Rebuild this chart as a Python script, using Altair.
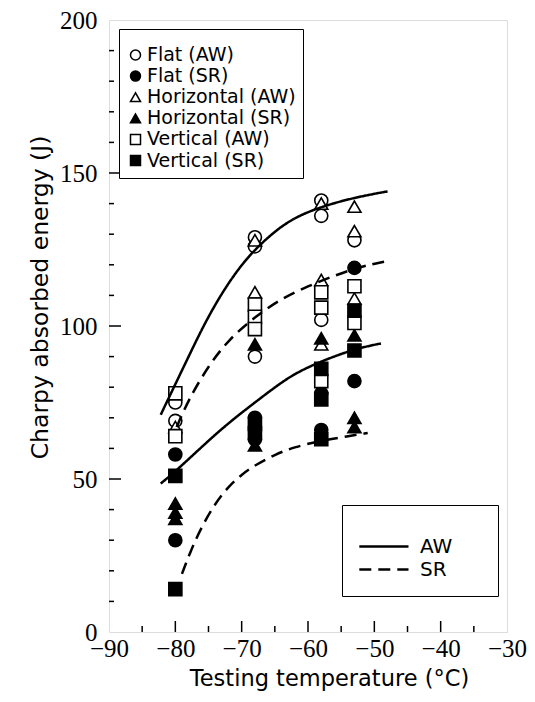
import altair as alt
import pandas as pd

# ---------------- data ----------------
TEMP_LABELS = [-90, -80, -70, -60, -50, -40, -30]
ENERGY_LABELS = [0, 50, 100, 150, 200]

series_names = ["Flat (AW)", "Flat (SR)", "Horizontal (AW)", "Horizontal (SR)",
                "Vertical (AW)", "Vertical (SR)"]
series_shapes = ["circle", "circle", "triangle-up", "triangle-up", "square", "square"]
series_fills = ["white", "black", "white", "black", "white", "black"]

flat_aw_t = [-80, -80, -68, -68, -68, -58, -58, -58, -53]
flat_aw_e = [75, 69, 129, 126, 90, 141, 136, 102, 128]
flat_sr_t = [-80, -80, -68, -68, -58, -58, -53, -53]
flat_sr_e = [58, 30, 70, 63, 78, 66, 119, 82]
hor_aw_t = [-80, -68, -68, -58, -58, -58, -53, -53, -53]
hor_aw_e = [67, 128, 111, 140, 115, 94, 139, 131, 109]
hor_sr_t = [-80, -80, -80, -68, -68, -58, -53, -53, -53]
hor_sr_e = [42, 39, 37, 94, 61, 96, 97, 70, 67]
ver_aw_t = [-80, -80, -68, -68, -68, -58, -58, -58, -53, -53]
ver_aw_e = [78, 64, 107, 103, 99, 111, 106, 82, 113, 101]
ver_sr_t = [-80, -80, -68, -68, -58, -58, -58, -53, -53]
ver_sr_e = [51, 14, 68, 65, 86, 76, 63, 105, 92]

# fitted curves
curve_types = ["AW", "SR"]
aw_upper_t = [-82.2, -80, -78, -76, -74, -72, -70, -68, -65, -62, -58, -53, -48]
aw_upper_e = [71, 81, 90, 99, 107, 114, 120, 125, 131, 135.5, 139, 142, 144]
aw_lower_t = [-82.2, -80, -77, -74, -71, -68, -65, -62, -58, -53, -49]
aw_lower_e = [48.5, 52.5, 58.5, 64.5, 70, 75, 80, 84.5, 88.5, 92.5, 94.3]
sr_upper_t = [-79.8, -78, -75, -72, -68, -64, -60, -56, -52, -48.5]
sr_upper_e = [67, 76, 87, 95.5, 103, 109, 113, 116.5, 119.5, 121]
sr_lower_t = [-79, -77.6, -76, -74, -72, -70, -68, -65, -62, -58, -54, -51]
sr_lower_e = [19, 27, 34.5, 42, 47.5, 51.5, 54.5, 58, 60.5, 62.5, 64, 65]

# inward tick positions
x_major_ticks = [-80, -70, -60, -50, -40]
x_minor_ticks = [-85, -75, -65, -55, -45, -35]
y_major_ticks = [50, 100, 150]
y_minor_ticks = [10, 20, 30, 40, 60, 70, 80, 90, 110, 120, 130, 140, 160, 170, 180, 190]

# ---------------- tables ----------------
pts = []
for name, ts, es in zip(series_names,
                        [flat_aw_t, flat_sr_t, hor_aw_t, hor_sr_t, ver_aw_t, ver_sr_t],
                        [flat_aw_e, flat_sr_e, hor_aw_e, hor_sr_e, ver_aw_e, ver_sr_e]):
    for t, e in zip(ts, es):
        pts.append({"T": t, "E": e, "series": name})
pts_df = pd.DataFrame(pts)

lines = []
for cid, ctype, ts, es in [("aw_u", "AW", aw_upper_t, aw_upper_e),
                           ("aw_l", "AW", aw_lower_t, aw_lower_e),
                           ("sr_u", "SR", sr_upper_t, sr_upper_e),
                           ("sr_l", "SR", sr_lower_t, sr_lower_e)]:
    for i, (t, e) in enumerate(zip(ts, es)):
        lines.append({"T": t, "E": e, "curve": cid, "type": ctype, "i": i})
lines_df = pd.DataFrame(lines)

W, H = 398, 612
xscale = alt.Scale(domain=[-90, -30], nice=False, zero=False)
yscale = alt.Scale(domain=[0, 200], nice=False, zero=False)

x_axis = alt.Axis(values=TEMP_LABELS, ticks=False, domain=False, grid=False,
                  labelFont="Liberation Serif", labelFontSize=25, labelColor="black",
                  labelPadding=4, labelFlush=False, labelOverlap=False,
                  title="Testing temperature (°C)", titleFont="DejaVu Sans",
                  titleFontSize=22.5, titleFontWeight="normal", titleColor="black",
                  titlePadding=6, titleX=220)
y_axis = alt.Axis(values=ENERGY_LABELS, ticks=False, domain=False, grid=False,
                  labelFont="Liberation Serif", labelFontSize=25, labelColor="black",
                  labelPadding=12, labelFlush=False, labelOverlap=False,
                  title="Charpy absorbed energy (J)", titleFont="DejaVu Sans",
                  titleFontSize=23.5, titleFontWeight="normal", titleColor="black",
                  titlePadding=7, titleY=277)

X = alt.X("T:Q", scale=xscale, axis=x_axis)
Y = alt.Y("E:Q", scale=yscale, axis=y_axis)

legend_pts = alt.Legend(orient="none", legendX=10, legendY=9, title=" ",
                        titleFontSize=7, titlePadding=2.5,
                        labelFont="DejaVu Sans", labelFontSize=19, labelColor="black",
                        symbolSize=100, symbolStrokeWidth=1.5, symbolOffset=0,
                        strokeColor="black", padding=7, rowPadding=1.1, labelOffset=2,
                        fillColor="white")

points = alt.Chart(pts_df).mark_point(filled=True, size=170, strokeWidth=1.6,
                                      opacity=1).encode(
    x=X, y=Y,
    shape=alt.Shape("series:N", scale=alt.Scale(domain=series_names, range=series_shapes),
                    legend=legend_pts),
    fill=alt.Fill("series:N", scale=alt.Scale(domain=series_names, range=series_fills),
                  legend=legend_pts),
    stroke=alt.Stroke("series:N", scale=alt.Scale(domain=series_names,
                                                  range=["black"] * 6),
                      legend=legend_pts),
)

# line-style key: a long horizontal stroke symbol (path in unit-symbol space)
legend_lines = alt.Legend(orient="none", legendX=233, legendY=485, title=" ",
                          titleFontSize=9, titlePadding=4,
                          labelFont="DejaVu Sans", labelFontSize=20, labelColor="black",
                          symbolType="M-2.2,0H2.2M8.26,0", symbolSize=500,
                          symbolStrokeWidth=2.5, symbolFillColor="transparent",
                          symbolStrokeColor="black", strokeColor="black",
                          symbolOffset=13.4, padding=16, rowPadding=0, labelOffset=23.6,
                          fillColor="white")

curves = alt.Chart(lines_df).mark_line(interpolate="basis", color="black",
                                       strokeWidth=2.5).encode(
    x=X, y=Y, detail="curve:N", order="i:Q",
    strokeDash=alt.StrokeDash("type:N",
                              scale=alt.Scale(domain=curve_types, range=[[1, 0], [12, 7]]),
                              legend=legend_lines),
)

xmaj = alt.Chart(pd.DataFrame({"T": x_major_ticks})).mark_rule(color="black", strokeWidth=1.5).encode(
    x=X, y=alt.value(H), y2=alt.value(H - 11))
xmin = alt.Chart(pd.DataFrame({"T": x_minor_ticks})).mark_rule(color="black", strokeWidth=1.5).encode(
    x=X, y=alt.value(H), y2=alt.value(H - 6))
ymaj = alt.Chart(pd.DataFrame({"E": y_major_ticks})).mark_rule(color="black", strokeWidth=1.5).encode(
    y=Y, x=alt.value(0), x2=alt.value(12))
ymin = alt.Chart(pd.DataFrame({"E": y_minor_ticks})).mark_rule(color="black", strokeWidth=1.5).encode(
    y=Y, x=alt.value(0), x2=alt.value(5))

chart = alt.layer(xmaj, xmin, ymaj, ymin, points, curves).properties(
    width=W, height=H,
    padding={"left": 101, "top": 12, "right": 20, "bottom": 60},
    autosize=alt.AutoSizeParams(type="none"),
).configure_view(stroke="black", strokeWidth=2).configure(background="white")

chart.save("out.html", embed_options={"renderer": "svg", "actions": False})
